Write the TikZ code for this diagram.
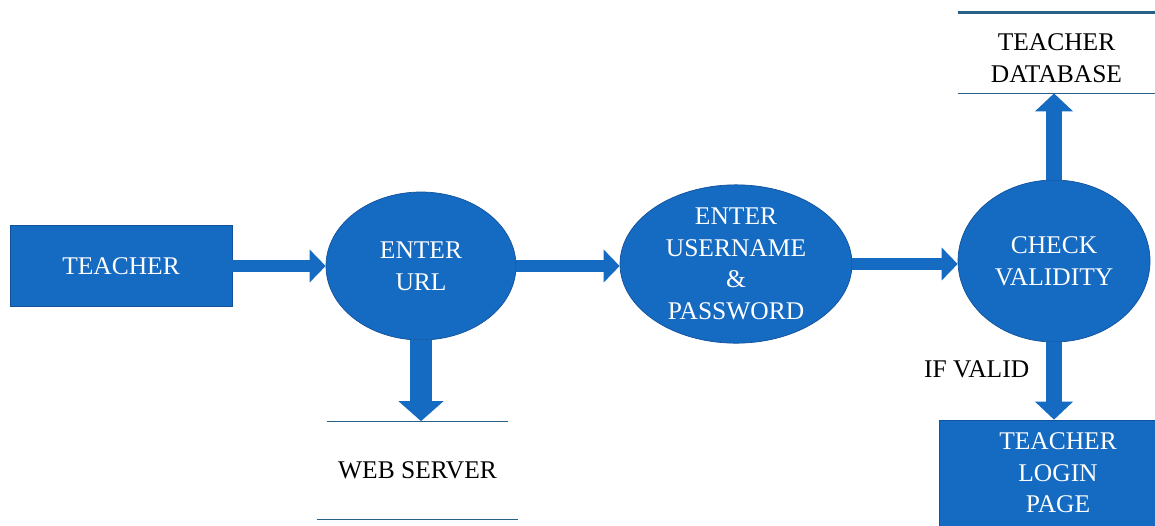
\documentclass[tikz,border=0pt]{standalone}
\usepackage{fontspec}
\setmainfont{Liberation Serif}
\usetikzlibrary{shapes.geometric, arrows.meta}
\definecolor{boxblue}{RGB}{21,106,194}
\definecolor{edgeblue}{RGB}{18,82,155}
\definecolor{storeline}{RGB}{40,96,134}
\tikzstyle{entity} = [rectangle, minimum width=4.44cm, minimum
height=1.62cm, text centered, draw=edgeblue, fill=boxblue, text=white, align=center]
\tikzstyle{process} = [ellipse, text centered, draw=edgeblue, fill=boxblue,
text=white, align=center, inner sep=0pt]
\tikzstyle{store} = [rectangle, text centered, align=center]
\tikzstyle{flow} =
[line width=0.24cm, draw=boxblue, -{Triangle[width=0.64cm,length=0.32cm]}]

\begin{document}
\begin{tikzpicture}[node distance=6cm, font=\fontsize{14.5}{18}\selectfont]
\useasboundingbox (0,0) rectangle (23.1,-10.5);
\clip (0,0) rectangle (23.1,-10.5);

\node(teacher)[entity] at (2.42,-5.32){TEACHER};
\node(url)[process, right of=teacher, minimum width=3.8cm, minimum
height=2.96cm]{ENTER\\URL};
\node(login)[process, right of=url, xshift=0.3cm, yshift=0.04cm, minimum
width=4.64cm, minimum height=2.88cm]{ENTER\\USERNAME\\\&\\PASSWORD};
\node(check)[process, right of=login, xshift=0.36cm, yshift=0.06cm, minimum
width=3.84cm, minimum height=3.24cm]{CHECK\\VALIDITY};

\node(database)[store, node distance=4.06cm, above of=check, xshift=0.05cm,
minimum width=3.94cm, minimum height=1.6cm]{TEACHER\\DATABASE};
\node(webserver)[store, node distance=4.08cm, below of=url, xshift=-0.07cm,
minimum width=4.02cm, minimum height=1.94cm]{WEB SERVER};
\node(loginpage)[entity, node distance=4.24cm, below of=check, xshift=0.08cm,
minimum width=4.74cm, minimum height=2.12cm]{TEACHER\\LOGIN\\PAGE};

% store lines sit a little above the text
\draw[storeline, line width=1.6pt]([yshift=0.1cm]database.north west) --
([yshift=0.1cm]database.north east);
\draw[storeline]([yshift=0.1cm]database.south west) --
([yshift=0.1cm]database.south east);
\draw[storeline]([xshift=0.2cm]webserver.north west) --
([xshift=-0.2cm]webserver.north east);
\draw[storeline](webserver.south west) -- (webserver.south east);

\draw[flow](teacher) -- (url);
\draw[flow](url.east) -- (url.east -| login.west);
\draw[flow](login.east) -- (login.east -| check.west);
\draw[flow, line width=0.44cm, -{Triangle[width=0.88cm,length=0.4cm]}]
(url.south) -- (url.south |- webserver.north);
\draw[flow, line width=0.32cm, -{Triangle[width=0.74cm,length=0.36cm]}]
(check.north) -- ([yshift=0.1cm]check.north |- database.south);
\draw[flow, line width=0.32cm, -{Triangle[width=0.74cm,length=0.36cm]}]
(check.south) -- node(ifvalid)[anchor=east, pos=0.35, xshift=-0.22cm,
text=black]{IF VALID}(check.south |- loginpage.north);

\end{tikzpicture}
\end{document}
